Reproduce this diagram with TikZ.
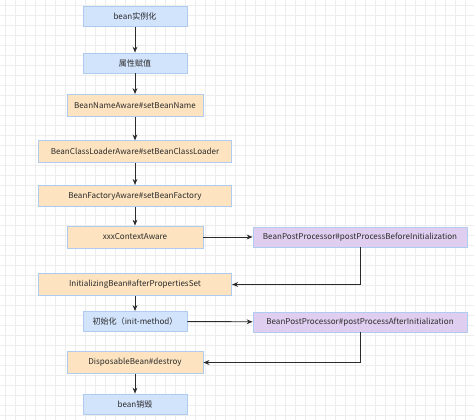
\documentclass[tikz,border=0pt]{standalone}
\usepackage{fontspec}
\setmainfont{Noto Sans CJK SC}
\usetikzlibrary{arrows.meta}
\definecolor{blueFill}{HTML}{D2E3FC}
\definecolor{orangeFill}{HTML}{FDE3BF}
\definecolor{purpleFill}{HTML}{E0CEF0}
\definecolor{boxBorder}{HTML}{AFCBF0}
\definecolor{lineDark}{HTML}{2B2B2B}
\definecolor{gridGray}{HTML}{EDEDED}
\tikzset{
  box/.style={draw=boxBorder,line width=0.6pt,inner sep=0pt,text=lineDark,
    font=\fontsize{6.05}{6.5}\selectfont},
  bluebox/.style={box,fill=blueFill,minimum width=78pt,minimum height=15pt},
  widebox/.style={box,fill=orangeFill,minimum width=145pt,minimum height=16pt},
  midbox/.style={box,fill=orangeFill,minimum width=102pt,minimum height=16.5pt},
  procbox/.style={box,fill=purpleFill,minimum width=160.5pt,minimum height=15pt},
  gridline/.style={-,draw=gridGray,line width=0.4pt}
}
\begin{document}
\begin{tikzpicture}[x=0.75pt,y=-0.75pt,->,>={Stealth[length=4.5pt,width=3.6pt]},
    line width=0.7pt,draw=lineDark]
      \useasboundingbox (0,0) rectangle (474,420);
      \foreach \gx in {5,15,...,465} \draw[gridline] (\gx,0) -- (\gx,420);
      \foreach \gy in {5,15,...,415} \draw[gridline] (0,\gy) -- (474,\gy);
      \node[bluebox] (new) at (135,16.5) {bean实例化};
      \node[bluebox] (props) at (135,63) {属性赋值};
      \node[midbox] (name) at (135,105.5) {BeanNameAware\#setBeanName};
      \node[widebox] (loader) at (135,151.5) {BeanClassLoaderAware\#setBeanClassLoader};
      \node[widebox] (factory) at (135,196) {BeanFactoryAware\#setBeanFactory};
      \node[midbox] (ctx) at (135,237) {xxxContextAware};
      \node[widebox] (initbean) at (135,284.5) {InitializingBean\#afterPropertiesSet};
      \node[bluebox] (init) at (135,321.5) {初始化（init-method）};
      \node[midbox] (destroy) at (135,362.5) {DisposableBean\#destroy};
      \node[bluebox] (gone) at (135,404) {bean销毁};
      \node[procbox] (before) at (360,237) {BeanPostProcessor\#postProcessBeforeInitialization};
      \node[procbox] (after) at (360,322) {BeanPostProcessor\#postProcessAfterInitialization};
      \draw (new) -- (props);
      \draw (props) -- (name);
      \draw (name) -- (loader);
      \draw (loader) -- (factory);
      \draw (factory) -- (ctx);
      \draw (ctx) -- (before);
      \draw (before.south) |- (initbean.east);
      \draw (initbean) -- (init);
      \draw (init) -- (after);
      \draw (after.south) |- (destroy.east);
      \draw (destroy) -- (gone);
    \end{tikzpicture}
\end{document}
